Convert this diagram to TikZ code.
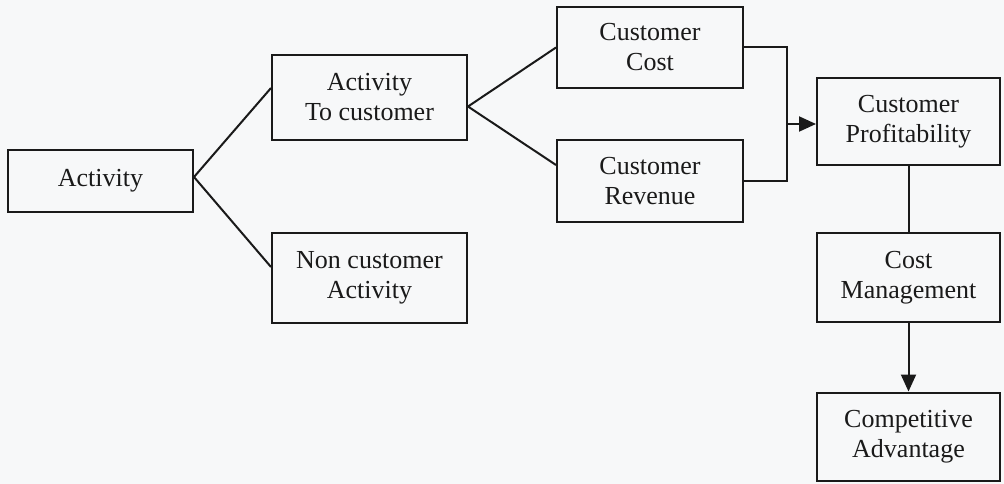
\documentclass[tikz,border=0pt]{standalone}
\usepackage{fontspec}
\setmainfont{Liberation Serif}
\usetikzlibrary{arrows.meta}
\definecolor{paper}{HTML}{F7F8F9}
\definecolor{ink}{HTML}{1A1A1A}
\begin{document}
\begin{tikzpicture}[x=1pt,y=-1pt,
  box/.style={draw=ink,line width=2pt,align=center,inner sep=0pt,
    font=\fontsize{26}{30}\selectfont,text=ink},
  link/.style={draw=ink,line width=2pt},
  tip/.style={-{Triangle[length=17pt,width=15pt]}}]
  \fill[paper] (0,0) rectangle (1004,484);
  \useasboundingbox (0,0) rectangle (1004,484);

  \node[box,minimum width=185pt,minimum height=62pt] (act) at (100.5,181) {Activity};
  \node[box,minimum width=195pt,minimum height=85pt] (tocust) at (369.5,97.5) {Activity\\To customer};
  \node[box,minimum width=195pt,minimum height=90pt] (noncust) at (369.5,278) {Non customer\\Activity};
  \node[box,minimum width=186pt,minimum height=81pt] (cost) at (650,47.5) {Customer\\Cost};
  \node[box,minimum width=186pt,minimum height=82pt] (rev) at (650,181) {Customer\\Revenue};
  \node[box,minimum width=183pt,minimum height=87pt] (prof) at (908.5,122) {Customer\\Profitability};
  \node[box,minimum width=183pt,minimum height=89pt] (mgmt) at (908.5,277.5) {Cost\\Management};
  \node[box,minimum width=183pt,minimum height=88pt] (comp) at (908.5,436.5) {Competitive\\Advantage};

  % branching from the activity boxes
  \draw[link] ([yshift=9.5pt]tocust.west) -- ([yshift=4pt]act.east) -- ([yshift=11pt]noncust.west);
  \draw[link] (cost.west) -- ([yshift=-9pt]tocust.east) -- ([yshift=16pt]rev.west);

  % cost and revenue join into profitability
  \coordinate (join) at (787,124);
  \draw[link] (cost.east) -- (join |- cost.east) -- (join |- rev.east) -- (rev.east);
  \draw[link,tip] (join) -- (join -| prof.west);

  % vertical chain
  \draw[link] (prof.south) -- (mgmt.north);
  \draw[link,tip] (mgmt.south) -- (comp.north);
\end{tikzpicture}
\end{document}
